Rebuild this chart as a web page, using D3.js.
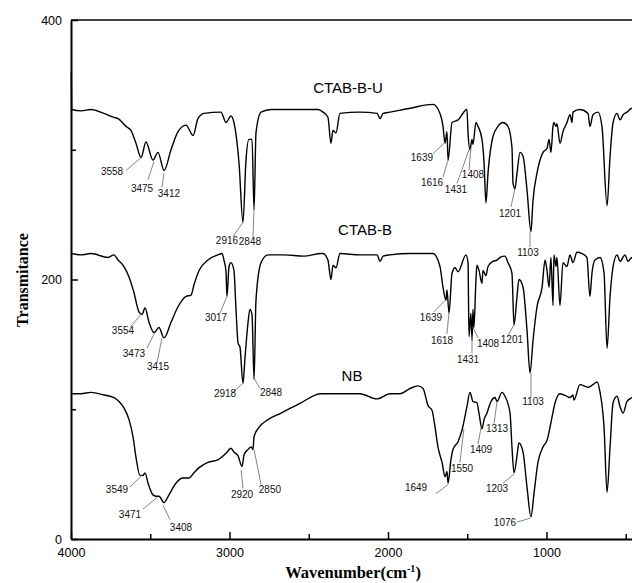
<!DOCTYPE html>
<html>
<head>
<meta charset="utf-8">
<script src="https://cdnjs.cloudflare.com/ajax/libs/d3/7.8.5/d3.min.js"></script>
<style>
  body { margin: 0; background: #fff; }
  svg { display: block; }
</style>
</head>
<body>
<div id="vis"></div>
<script>
// spectra: [wavenumber, transmitance]
var ctabbu = [
  [3998,360],[3996,331],[3937,330],[3873,331],[3792,328],[3729,325],[3703,324],[3653,318],[3622,315],
  [3590,305],[3558,294],[3527,306],[3483,292],[3451,298],[3413,284],[3369,300],[3325,314],[3274,319],
  [3230,311],[3199,324],[3161,328],[3054,329],[3022,321],[2991,326],[2972,321],[2946,298],[2940,290],
  [2915,244],[2896,292],[2877,308],[2858,308],[2845,254],[2833,313],[2801,329],[2738,331],[2600,331],
  [2442,331],[2410,329],[2379,325],[2360,305],[2347,315],[2328,313],[2303,328],[2177,329],[2069,328],
  [2050,324],[2031,328],[1987,329],[1861,332],[1716,335],[1672,328],[1653,318],[1640,305],[1628,314],
  [1621,292],[1596,321],[1558,323],[1502,331],[1495,313],[1483,300],[1470,308],[1464,304],[1445,321],
  [1432,318],[1407,308],[1394,290],[1382,259],[1369,282],[1338,310],[1306,318],[1275,321],[1243,318],
  [1218,302],[1211,274],[1199,270],[1186,282],[1167,298],[1148,295],[1123,269],[1098,237],[1085,261],
  [1060,282],[1022,298],[997,301],[984,308],[972,298],[959,318],[953,321],[940,318],[934,320],[915,305],
  [896,314],[871,321],[852,327],[839,321],[833,329],[789,331],[738,328],[726,318],[707,327],[675,329],
  [650,318],[618,257],[599,295],[580,321],[555,328],[536,323],[517,327],[492,329],[461,332],[440,331]
];

var ctabb = [
  [4000,220],[3937,219],[3874,220],[3767,217],[3729,219],[3703,215],[3666,210],[3634,202],[3603,190],
  [3571,175],[3552,173],[3533,178],[3508,167],[3476,159],[3445,163],[3413,155],[3369,167],[3325,179],
  [3274,187],[3243,188],[3224,196],[3192,207],[3136,215],[3073,219],[3047,220],[3035,215],[3022,206],
  [3016,187],[3003,210],[2991,213],[2972,207],[2959,177],[2946,151],[2934,148],[2915,120],[2902,140],
  [2883,167],[2871,177],[2858,173],[2845,123],[2833,184],[2801,213],[2757,219],[2656,219],[2530,218],
  [2423,220],[2410,220],[2379,215],[2360,200],[2347,211],[2328,209],[2303,220],[2177,219],[2069,219],
  [2050,214],[2031,218],[1987,219],[1861,220],[1716,220],[1672,210],[1653,194],[1634,184],[1628,192],
  [1615,174],[1596,205],[1577,209],[1558,206],[1508,219],[1495,213],[1489,156],[1477,174],[1470,153],
  [1464,177],[1458,163],[1445,200],[1439,211],[1426,207],[1407,197],[1401,207],[1382,203],[1369,210],
  [1338,214],[1312,215],[1293,217],[1262,218],[1243,213],[1218,205],[1205,165],[1186,187],[1174,200],
  [1148,194],[1123,161],[1104,128],[1085,153],[1060,179],[1028,194],[1009,215],[997,207],[984,194],
  [972,217],[959,180],[953,219],[940,210],[934,217],[915,180],[896,213],[871,210],[852,219],[833,213],
  [808,221],[776,220],[745,217],[726,187],[713,205],[694,215],[662,217],[637,205],[618,147],[599,187],
  [580,210],[555,219],[536,214],[505,219],[486,214],[461,217],[440,216]
];

var nb = [
  [4000,112],[3937,112],[3874,113],[3792,111],[3729,109],[3697,106],[3666,101],[3634,92],[3609,79],
  [3590,63],[3565,49],[3546,49],[3533,51],[3514,43],[3483,34],[3464,33],[3445,33],[3413,28],[3382,34],
  [3338,43],[3294,47],[3256,47],[3224,51],[3192,55],[3136,59],[3073,61],[3022,66],[2991,70],[2972,67],
  [2946,64],[2921,56],[2908,65],[2883,69],[2864,71],[2852,69],[2845,79],[2814,86],[2757,92],[2675,97],
  [2549,105],[2423,112],[2410,112],[2284,112],[2177,112],[2069,108],[1987,112],[1924,112],[1861,116],
  [1811,118],[1779,116],[1748,103],[1722,99],[1703,86],[1685,71],[1659,59],[1640,48],[1628,52],
  [1621,43],[1603,61],[1590,69],[1558,75],[1533,84],[1502,102],[1483,113],[1464,106],[1439,105],
  [1426,97],[1407,85],[1394,92],[1376,97],[1350,106],[1325,109],[1312,106],[1281,113],[1262,110],
  [1230,97],[1218,71],[1205,51],[1186,64],[1174,74],[1148,67],[1123,40],[1098,17],[1079,35],[1054,59],
  [1022,71],[997,76],[965,94],[946,105],[915,112],[871,110],[852,109],[833,111],[827,107],[789,119],
  [738,117],[707,119],[681,121],[662,113],[637,86],[618,36],[599,71],[580,105],[555,110],[536,102],
  [517,97],[492,106],[461,109],[440,110]
];

// series names and where they sit (wavenumber, transmitance)
var seriesNames = ["CTAB-B-U", "CTAB-B", "NB"];
var seriesNamePos = [[2252,348],[2145,238],[2227,126]];

// peak labels: text, label at (wn,T), leader from (wn,T) to (wn,T)
var peaks = [
  ["3558",3741,283, 3653,284,3558,294],
  ["3475",3552,270, 3514,277,3476,291],
  ["3412",3382,266, 3426,271,3413,282],
  ["2916",3016,230, 2978,233,2915,244],
  ["2848",2871,229, 2852,232,2845,254],
  ["1639",1786,294, 1716,297,1647,305],
  ["1616",1722,275, 1653,279,1621,292],
  ["1431",1571,269, 1565,274,1489,300],
  ["1408",1464,281, 1489,284,1476,302],
  ["1201",1230,251, 1224,256,1199,270],
  ["1103",1117,221, 1104,225,1104,237],

  ["3554",3672,161, 3628,163,3552,174],
  ["3473",3603,143, 3521,147,3476,158],
  ["3415",3451,133, 3457,136,3426,155],
  ["3017",3085,171, 3060,174,3016,187],
  ["2918",3028,112, 2978,113,2915,120],
  ["2848",2738,113, 2808,116,2845,124],
  ["1639",1729,171, 1710,175,1640,184],
  ["1618",1659,153, 1628,158,1615,175],
  ["1431",1495,138, 1470,143,1470,157],
  ["1408",1369,151, 1432,155,1464,163],
  ["1201",1218,154, 1243,157,1205,165],
  ["1103",1085,106, 1098,109,1098,128],

  ["3549",3710,38, 3628,40,3552,49],
  ["3471",3628,19, 3546,23,3457,32],
  ["3408",3306,8.5, 3375,15,3420,26],
  ["2920",2921,34, 2915,39,2927,53],
  ["2850",2745,38, 2801,42,2845,69],
  ["1649",1823,40, 1697,35,1621,42],
  ["1550",1533,54, 1546,59,1521,85],
  ["1409",1413,69, 1432,73,1413,86],
  ["1313",1312,85, 1331,89,1312,106],
  ["1203",1312,39, 1274,43,1205,50],
  ["1076",1262,13, 1186,13,1104,16]
];

var xMajor = [4000, 3000, 2000, 1000];
var xMinor = [3500, 2500, 1500, 500];
var yMajor = [0, 200, 400];
var yMinor = [100, 300];

function draw() {
  var width = 632, height = 583;
  var left = 71, top = 20, bottom = 539;

  var svg = d3.select("#vis").append("svg")
              .attr("width", width)
              .attr("height", height);

  var x = d3.scaleLinear().domain([4000, 400]).range([left, left + 3600 * 0.1585]);
  var y = d3.scaleLinear().domain([0, 400]).range([bottom, top]);

  var sans = "'Liberation Sans', Arial, sans-serif";
  var serif = "'Liberation Serif', 'Times New Roman', serif";

  // top frame
  svg.append("line")
     .attr("x1", left).attr("x2", width)
     .attr("y1", top).attr("y2", top)
     .attr("stroke", "#000").attr("stroke-width", 1.5);

  // axes, ticks point inwards
  svg.append("g")
     .attr("transform", "translate(0," + bottom + ")")
     .call(d3.axisBottom(x).tickValues(xMajor).tickSize(-7).tickSizeOuter(0).tickPadding(9).tickFormat(d3.format("d")));
  svg.append("g")
     .attr("transform", "translate(0," + bottom + ")")
     .call(d3.axisBottom(x).tickValues(xMinor).tickSize(-5).tickSizeOuter(0).tickFormat(""))
     .select(".domain").remove();

  svg.append("g")
     .attr("transform", "translate(" + left + ",0)")
     .call(d3.axisLeft(y).tickValues(yMajor).tickSize(-7).tickSizeOuter(0).tickPadding(9));
  svg.append("g")
     .attr("transform", "translate(" + left + ",0)")
     .call(d3.axisLeft(y).tickValues(yMinor).tickSize(-5).tickSizeOuter(0).tickFormat(""))
     .select(".domain").remove();

  svg.selectAll(".domain").attr("stroke-width", 2);
  svg.selectAll(".tick line").attr("stroke-width", 1.5);
  svg.selectAll(".tick text")
     .attr("font-family", sans)
     .attr("font-size", 12.5)
     .attr("fill", "#000");

  // spectra, smoothed a little between the read points
  var line = d3.line()
               .curve(d3.curveMonotoneX)
               .x(function(d) { return x(d[0]); })
               .y(function(d) { return y(d[1]); });

  svg.selectAll("path.spectrum")
     .data([ctabbu, ctabb, nb])
     .enter().append("path")
     .attr("class", "spectrum")
     .attr("d", line)
     .attr("fill", "none")
     .attr("stroke", "#000")
     .attr("stroke-width", 1.4)
     .attr("stroke-linejoin", "round");

  // peak leaders and labels
  svg.selectAll("line.leader")
     .data(peaks)
     .enter().append("line")
     .attr("class", "leader")
     .attr("x1", function(d) { return x(d[3]); })
     .attr("y1", function(d) { return y(d[4]); })
     .attr("x2", function(d) { return x(d[5]); })
     .attr("y2", function(d) { return y(d[6]); })
     .attr("stroke", "#777")
     .attr("stroke-width", 0.9);

  svg.selectAll("text.peak")
     .data(peaks)
     .enter().append("text")
     .attr("class", "peak")
     .attr("x", function(d) { return x(d[1]); })
     .attr("y", function(d) { return y(d[2]); })
     .attr("dy", "0.35em")
     .attr("text-anchor", "middle")
     .attr("font-family", sans)
     .attr("font-size", 10)
     .attr("fill", "#111")
     .text(function(d) { return d[0]; });

  svg.selectAll("text.series")
     .data(seriesNames)
     .enter().append("text")
     .attr("class", "series")
     .attr("x", function(d, i) { return x(seriesNamePos[i][0]); })
     .attr("y", function(d, i) { return y(seriesNamePos[i][1]); })
     .attr("dy", "0.35em")
     .attr("text-anchor", "middle")
     .attr("font-family", sans)
     .attr("font-size", 15)
     .attr("fill", "#000")
     .text(function(d) { return d; });

  // axis titles
  var xt = svg.append("text")
     .attr("x", 353)
     .attr("y", 578)
     .attr("text-anchor", "middle")
     .attr("font-family", serif)
     .attr("font-weight", "bold")
     .attr("font-size", 16.5);
  xt.append("tspan").text("Wavenumber(cm");
  xt.append("tspan").attr("dy", -6).attr("font-size", 10).text("-1");
  xt.append("tspan").attr("dy", 6).text(")");

  svg.append("text")
     .attr("transform", "translate(28,280) rotate(-90)")
     .attr("text-anchor", "middle")
     .attr("font-family", serif)
     .attr("font-weight", "bold")
     .attr("font-size", 16)
     .text("Transmitance");
}

draw();
</script>
</body>
</html>
